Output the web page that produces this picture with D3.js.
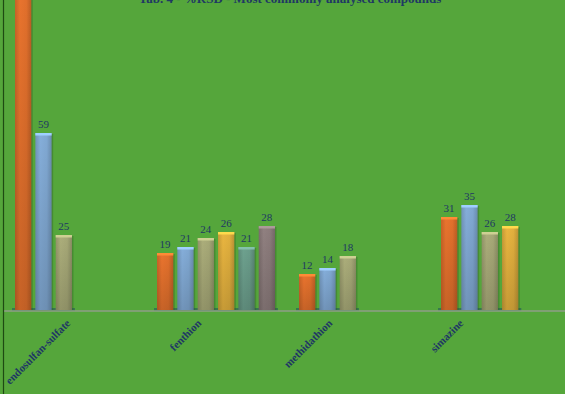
<!DOCTYPE html>
<html>
<head>
<meta charset="utf-8">
<script src="https://cdn.jsdelivr.net/npm/d3@7"></script>
<style>
  body { margin: 0; background: #55a63b; }
  svg { display: block; }
</style>
</head>
<body>
<div class="chart"></div>
<script>
const width = 565
const height = 394

// data
const categories = ["endosulfan-sulfate", "fenthion", "methidathion", "simazine"]
const series = ["s1", "s2", "s3", "s4", "s5", "s6"]
const s1 = [110, 19, 12, 31]
const s2 = [59, 21, 14, 35]
const s3 = [25, 24, 18, 26]
const s4 = [null, 26, null, 28]
const s5 = [null, 21, null, null]
const s6 = [null, 28, null, null]
const values = [s1, s2, s3, s4, s5, s6]
const title = "Tab. 4 - %RSD - Most commonly analysed compounds"

const colors = ["#e2702c", "#80a8d2", "#a6a877", "#e2b03e", "#6a9c8a", "#8c7c7c"]

const rows = []
categories.forEach((c, ci) => {
    series.forEach((s, si) => {
        if (values[si][ci] != null) rows.push({cat: c, ser: s, si: si, value: values[si][ci]})
    })
})

const svg = d3.select(".chart")
    .append("svg")
    .attr("width", width)
    .attr("height", height)

svg.append("rect")
    .attr("width", width)
    .attr("height", height)
    .attr("fill", "#55a63b")

const x0 = d3.scaleBand()
    .domain(categories)
    .range([15, 559])
    .paddingInner(0.169)
    .paddingOuter(0)

const x1 = d3.scaleBand()
    .domain(series)
    .range([0, x0.bandwidth()])
    .paddingInner(0.2)

const y = d3.scaleLinear()
    .domain([0, 100])
    .range([310, 10])

const xLabel = d3.scalePoint()
    .domain(categories)
    .range([71, 464])

// gradients for the 3d look
const defs = svg.append("defs")
colors.forEach((c, i) => {
    const g = defs.append("linearGradient")
        .attr("id", "grad" + i)
        .attr("x1", "0%").attr("x2", "100%")
        .attr("y1", "0%").attr("y2", "0%")
    const base = d3.color(c)
    g.append("stop").attr("offset", "0%").attr("stop-color", base.darker(0.35))
    g.append("stop").attr("offset", "30%").attr("stop-color", base.brighter(0.1))
    g.append("stop").attr("offset", "70%").attr("stop-color", base)
    g.append("stop").attr("offset", "100%").attr("stop-color", base.darker(0.5))

    const v = defs.append("linearGradient")
        .attr("id", "shade" + i)
        .attr("x1", "0%").attr("x2", "0%")
        .attr("y1", "0%").attr("y2", "100%")
    v.append("stop").attr("offset", "0%").attr("stop-color", "#000").attr("stop-opacity", 0)
    v.append("stop").attr("offset", "100%").attr("stop-color", "#000").attr("stop-opacity", 0.15)
})

// title (cut off at top)
svg.append("text")
    .attr("x", 290)
    .attr("y", 3)
    .attr("text-anchor", "middle")
    .attr("font-family", "Liberation Serif, serif")
    .attr("font-weight", "bold")
    .attr("font-size", "13px")
    .attr("fill", "#1f3864")
    .text(title)

// floor strips under each group
const groupSpan = categories.map((c, ci) => {
    const present = series.filter((s, si) => values[si][ci] != null)
    return {cat: c, first: present[0], last: present[present.length - 1]}
})

svg.selectAll(".floor")
    .data(groupSpan)
    .enter().append("rect")
        .attr("class", "floor")
        .attr("x", d => x0(d.cat) + x1(d.first) - 3)
        .attr("y", y(0) - 2)
        .attr("width", d => x1(d.last) - x1(d.first) + x1.bandwidth() + 6)
        .attr("height", 3)
        .attr("fill", "#2f6b55")
        .attr("opacity", 0.8)

// baseline
svg.append("line")
    .attr("x1", 3)
    .attr("x2", width)
    .attr("y1", y(0) + 1)
    .attr("y2", y(0) + 1)
    .attr("stroke", "#8f9e88")
    .attr("stroke-width", 1.5)

// bars
const bars = svg.selectAll(".bar")
    .data(rows)
    .enter().append("g")
        .attr("class", "bar")
        .attr("transform", d => `translate(${x0(d.cat) + x1(d.ser)}, 0)`)

bars.append("rect")
    .attr("x", 1.5)
    .attr("y", d => y(d.value) + 1)
    .attr("width", x1.bandwidth())
    .attr("height", d => y(0) - y(d.value) - 1)
    .attr("fill", "#2c5a22")
    .attr("opacity", 0.35)

bars.append("rect")
    .attr("x", 0)
    .attr("y", d => y(d.value))
    .attr("width", x1.bandwidth())
    .attr("height", d => y(0) - y(d.value))
    .attr("fill", d => `url(#grad${d.si})`)

bars.append("rect")
    .attr("x", 0)
    .attr("y", d => y(d.value))
    .attr("width", x1.bandwidth())
    .attr("height", d => y(0) - y(d.value))
    .attr("fill", d => `url(#shade${d.si})`)

bars.append("rect")
    .attr("x", 0)
    .attr("y", d => y(d.value))
    .attr("width", x1.bandwidth())
    .attr("height", 2.5)
    .attr("fill", d => d3.color(colors[d.si]).brighter(0.6))

// value labels
bars.append("text")
    .attr("x", x1.bandwidth() / 2)
    .attr("y", d => y(d.value) - 5)
    .attr("text-anchor", "middle")
    .attr("font-family", "Liberation Serif, serif")
    .attr("font-size", "11px")
    .attr("fill", "#1f3864")
    .text(d => d.value)

// y axis line
svg.append("line")
    .attr("x1", 3.5)
    .attr("x2", 3.5)
    .attr("y1", 0)
    .attr("y2", height)
    .attr("stroke", "#1e4a12")
    .attr("stroke-width", 1.2)

// category labels
svg.selectAll(".cat")
    .data(categories)
    .enter().append("text")
        .attr("class", "cat")
        .attr("transform", d => `translate(${xLabel(d)}, 324) rotate(-45)`)
        .attr("text-anchor", "end")
        .attr("font-family", "Liberation Serif, serif")
        .attr("font-weight", "bold")
        .attr("font-size", "11px")
        .attr("fill", "#1f3864")
        .text(d => d)
</script>
</body>
</html>
